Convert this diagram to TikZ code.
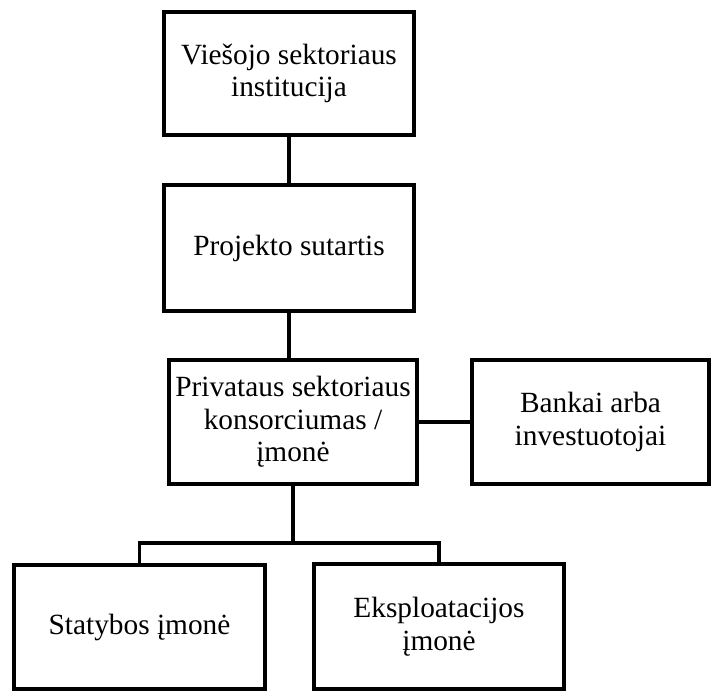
\documentclass[tikz,border=0pt]{standalone}
\usepackage{fontspec}
\setmainfont{Liberation Serif}

\begin{document}
\begin{tikzpicture}[x=0.75pt, y=-0.75pt, line width=2.4pt,
    box/.style={draw, rectangle, align=center, inner sep=1pt, minimum width=187.5pt, minimum height=93pt, font=\fontsize{22}{24.5}\selectfont}]
		\useasboundingbox (0,0) rectangle (712,691);
		\node[box, minimum height=92.25pt] (inst) at (289,73.5) {Viešojo sektoriaus\\institucija};
		\node[box, minimum height=94.5pt] (sut) at (289,248) {Projekto sutartis};
		\node[box, minimum width=186pt] (kons) at (293,422) {Privataus sektoriaus\\konsorciumas /\\įmonė};
		\node[box, minimum width=177.75pt] (bank) at (590.5,422) {Bankai arba\\investuotojai};
		\node[box, minimum width=188.25pt] (statyb) at (139.5,627) {Statybos įmonė};
		\node[box, minimum height=93.75pt] (ekspl) at (439,626.5) {Eksploatacijos\\įmonė};
		\coordinate (bar) at (293,543);

		\draw (inst) -- (sut);
		\draw (sut.south) -- (sut.south |- kons.north);
		\draw (kons) -- (bank);
		\draw (kons) -- (bar);
		\draw (statyb) |- (bar) -| (ekspl);
	\end{tikzpicture}
\end{document}
